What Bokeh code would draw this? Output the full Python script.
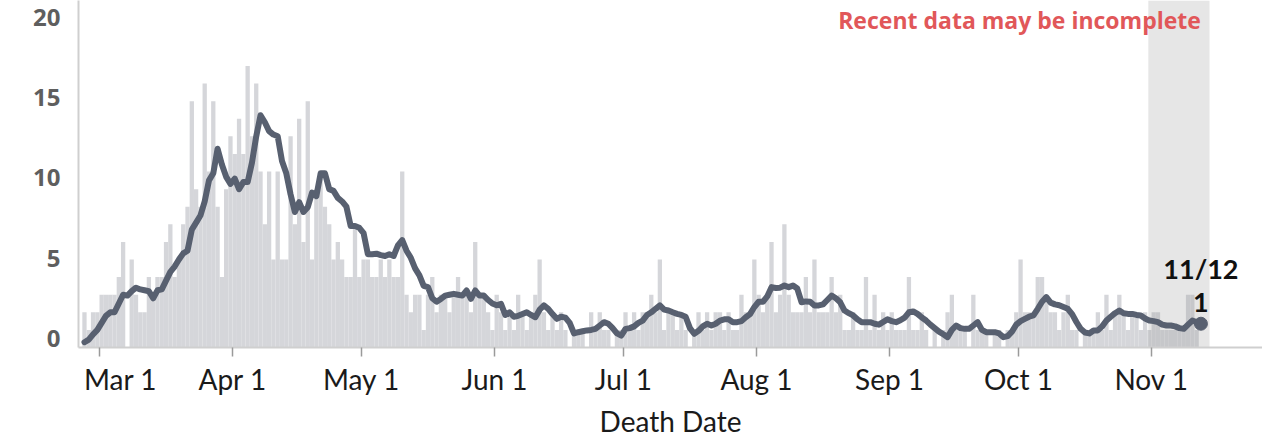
import datetime as dt
from bokeh.plotting import figure
from bokeh.models import Range1d, LinearAxis, FixedTicker, DatetimeTickFormatter, Label, ColumnDataSource
from bokeh.embed import file_html
from bokeh.resources import INLINE

# ---------------- data ----------------
first_day = dt.datetime(2020, 2, 26)

daily_deaths = [
    2, 1, 2, 2, 3, 3, 3, 3, 4, 6,
    0, 5, 3, 2, 2, 4, 3, 4, 4, 6,
    7, 4, 5, 7, 8, 14, 9, 8, 15, 10,
    14, 8, 4, 9, 12, 11, 13, 11, 16, 12,
    15, 10, 7, 10, 5, 10, 5, 5, 12, 7,
    13, 6, 14, 5, 9, 10, 8, 7, 5, 6,
    5, 4, 4, 7, 4, 5, 5, 4, 4, 5,
    4, 5, 4, 4, 10, 3, 2, 3, 3, 1,
    3, 4, 2, 3, 3, 2, 3, 4, 3, 3,
    2, 6, 3, 3, 2, 1, 3, 2, 1, 2,
    1, 3, 2, 1, 2, 3, 5, 2, 1, 2,
    1, 2, 1, 0, 1, 1, 1, 0, 2, 1,
    2, 1, 1, 0, 1, 1, 2, 1, 2, 1,
    2, 2, 3, 2, 5, 1, 2, 2, 1, 2,
    1, 0, 1, 2, 1, 2, 1, 2, 2, 1,
    2, 1, 1, 3, 2, 2, 5, 3, 2, 3,
    6, 2, 3, 7, 3, 2, 2, 2, 4, 2,
    5, 2, 2, 2, 4, 2, 3, 1, 1, 2,
    1, 1, 4, 1, 3, 1, 2, 1, 2, 1,
    1, 1, 4, 1, 1, 2, 1, 0, 1, 0,
    1, 2, 3, 1, 1, 1, 0, 3, 1, 1,
    1, 0, 1, 1, 0, 1, 1, 2, 5, 2,
    2, 2, 4, 4, 3, 2, 2, 1, 2, 3,
    1, 1, 0, 1, 1, 1, 2, 1, 3, 1,
    2, 3, 2, 1, 2, 2, 1, 2, 1, 2,
    2, 1, 1, 1, 1, 1, 1, 3, 3, 1, 0,
]

avg_7day = [
    0.3, 0.45, 0.75, 1.0, 1.4, 1.8, 2.0, 2.0, 2.5, 3.0,
    2.95, 3.2, 3.4, 3.3, 3.25, 3.2, 2.8, 3.25, 3.3, 3.8,
    4.3, 4.6, 5.0, 5.35, 5.5, 6.7, 7.1, 7.5, 8.3, 9.5,
    9.9, 11.3, 10.4, 9.7, 9.3, 9.6, 9.0, 9.4, 9.4, 10.5,
    12.0, 13.2, 12.8, 12.3, 12.1, 12.0, 10.6, 9.9, 8.7, 7.7,
    8.26, 7.7, 7.97, 8.8, 8.6, 9.9, 9.9, 9.0, 8.9, 8.5,
    8.3, 8.0, 6.9, 6.9, 6.8, 6.5, 5.3, 5.3, 5.33, 5.25,
    5.2, 5.3, 5.2, 5.8, 6.1, 5.5, 5.1, 4.5, 4.1, 3.5,
    3.43, 2.8, 2.6, 2.76, 2.95, 3.0, 3.05, 3.0, 2.95, 3.24,
    2.76, 3.24, 2.95, 2.95, 2.7, 2.5, 2.4, 2.48, 1.85, 2.0,
    1.75, 1.8, 1.9, 2.0, 1.85, 1.72, 2.15, 2.39, 2.2, 1.9,
    1.63, 1.75, 1.7, 1.4, 0.8, 0.87, 0.92, 0.97, 1.0, 1.06,
    1.25, 1.44, 1.35, 1.1, 0.8, 0.68, 1.06, 1.1, 1.2, 1.4,
    1.53, 1.85, 2.0, 2.2, 2.39, 2.15, 2.1, 2.0, 1.91, 1.85,
    1.75, 1.1, 0.78, 0.95, 1.2, 1.35, 1.25, 1.35, 1.53, 1.6,
    1.6, 1.44, 1.44, 1.5, 1.72, 1.9, 2.3, 2.6, 2.6, 2.9,
    3.43, 3.38, 3.4, 3.52, 3.43, 3.52, 3.35, 2.57, 2.62, 2.6,
    2.39, 2.39, 2.45, 2.7, 2.95, 2.8, 2.57, 2.1, 1.95, 1.82,
    1.6, 1.44, 1.44, 1.44, 1.35, 1.3, 1.45, 1.6, 1.5, 1.44,
    1.55, 1.7, 2.0, 2.05, 1.91, 1.7, 1.53, 1.3, 1.1, 0.9,
    0.75, 0.59, 1.0, 1.25, 1.1, 1.06, 1.06, 1.25, 1.44, 1.0,
    0.87, 0.87, 0.87, 0.8, 0.59, 0.65, 0.9, 1.3, 1.5, 1.63,
    1.75, 1.82, 2.2, 2.6, 2.86, 2.55, 2.45, 2.4, 2.3, 2.2,
    1.9, 1.45, 1.06, 0.85, 0.8, 0.97, 0.97, 1.2, 1.53, 1.75,
    1.95, 2.1, 1.95, 1.91, 1.91, 1.85, 1.82, 1.65, 1.53, 1.5,
    1.44, 1.3, 1.25, 1.25, 1.2, 1.1, 1.06, 1.3, 1.53, 1.45, 1.35,
]

x_tick_labels = ["Mar 1", "Apr 1", "May 1", "Jun 1", "Jul 1", "Aug 1", "Sep 1", "Oct 1", "Nov 1"]
x_tick_dates = [dt.datetime(2020, m, 1, tzinfo=dt.timezone.utc) for m in range(3, 12)]
y_tick_values = [0, 5, 10, 15, 20]

last_label_date = "11/12"
last_label_value = "1"
note_text = "Recent data may be incomplete"
incomplete_from = dt.datetime(2020, 10, 31, 6)
incomplete_to = dt.datetime(2020, 11, 14, 12)

# ---------------- derived ----------------
DAY = dt.timedelta(days=1)
dates = [first_day + i * DAY + dt.timedelta(hours=12) for i in range(len(daily_deaths))]
src = ColumnDataSource(dict(date=dates, deaths=daily_deaths, avg=avg_7day))

mar1 = dt.datetime(2020, 3, 1)
x_start = mar1 - dt.timedelta(days=4.89)
x_end = mar1 + dt.timedelta(days=270.84)
y_end = 19.72

BAR = "#d5d6da"
LINE = "#586070"
AXIS = "#cfcfcf"
FONT = "Lato"

p = figure(
    width=1262, height=440,
    x_axis_type="datetime",
    x_range=Range1d(x_start, x_end),
    y_range=Range1d(0, y_end),
    y_axis_location=None,
    output_backend="svg",
    toolbar_location=None,
    min_border_left=78, min_border_right=0, min_border_top=0, min_border_bottom=93,
)
p.outline_line_color = None
p.grid.visible = False
p.background_fill_color = "white"

# bars
p.vbar(x="date", top="deaths", width=DAY.total_seconds() * 1000, source=src,
       fill_color=BAR, line_color=None)

# incomplete-data shading (over bars, under the line)
p.quad(left=[incomplete_from], right=[incomplete_to], bottom=[0], top=[y_end],
       fill_color="#9a9a9a", fill_alpha=0.25, line_color=None)

# 7-day average line
p.line(x="date", y="avg", source=src, line_color=LINE, line_width=6,
       line_join="round", line_cap="round")
p.scatter(x=[dates[-1]], y=[avg_7day[-1]], size=13, fill_color=LINE, line_color=LINE)

# x axis
xa = p.xaxis[0]
tick_ms = [d.timestamp() * 1000 for d in x_tick_dates]
xa.ticker = FixedTicker(ticks=tick_ms)
fmt = "%b %-d"
xa.formatter = DatetimeTickFormatter(days=fmt, months=fmt, years=fmt, hours=fmt, hourmin=fmt,
                                     minutes=fmt, minsec=fmt, seconds=fmt, milliseconds=fmt)
shown_labels = list(x_tick_labels)
shown_labels[0] = "\u2002\u2002\u2002" + shown_labels[0]   # first label sits inside the frame
xa.major_label_overrides = {t: lab for t, lab in zip(tick_ms, shown_labels)}
xa.axis_line_color = AXIS
xa.axis_line_width = 2
xa.major_tick_line_color = "#9a9a9a"
xa.major_tick_line_width = 1.5
xa.major_tick_out = 9
xa.major_tick_in = 0
xa.minor_tick_line_color = None
xa.major_label_text_font = FONT
xa.major_label_text_font_size = "28px"
xa.major_label_text_color = "#1a1a1a"
xa.major_label_standoff = 5
xa.axis_label = "Death Date"
xa.axis_label_text_font = FONT
xa.axis_label_text_font_style = "normal"
xa.axis_label_text_font_size = "28px"
xa.axis_label_text_color = "#1a1a1a"
xa.axis_label_standoff = 5

# y axis (labels)
p.extra_y_ranges = {"labels": Range1d(-0.561, 21.059)}
ya = LinearAxis(y_range_name="labels", ticker=FixedTicker(ticks=y_tick_values))
ya.axis_line_color = AXIS
ya.axis_line_width = 2
ya.major_tick_out = 0
ya.major_tick_in = 0
ya.minor_tick_line_color = None
ya.major_tick_line_color = None
ya.major_label_standoff = 18
ya.major_label_text_font = "Open Sans"
ya.major_label_text_font_style = "bold"
ya.major_label_text_font_size = "24px"
ya.major_label_text_color = "#5e5e5e"
p.add_layout(ya, "left")

# annotations
p.add_layout(Label(x=dates[-1], y=y_end, y_offset=-19, text=note_text,
                   text_align="right", text_baseline="middle",
                   text_font="Open Sans", text_font_style="bold", text_font_size="23px",
                   text_color="#e15759"))
p.add_layout(Label(x=dates[-1], y=avg_7day[-1], y_offset=55, text=last_label_date,
                   text_align="center", text_baseline="middle",
                   text_font=FONT, text_font_style="bold", text_font_size="27px",
                   text_color="#111111"))
p.add_layout(Label(x=dates[-1], y=avg_7day[-1], y_offset=21, text=last_label_value,
                   text_align="center", text_baseline="middle",
                   text_font=FONT, text_font_style="bold", text_font_size="27px",
                   text_color="#111111"))

open("out.html", "w").write(file_html(p, INLINE))
